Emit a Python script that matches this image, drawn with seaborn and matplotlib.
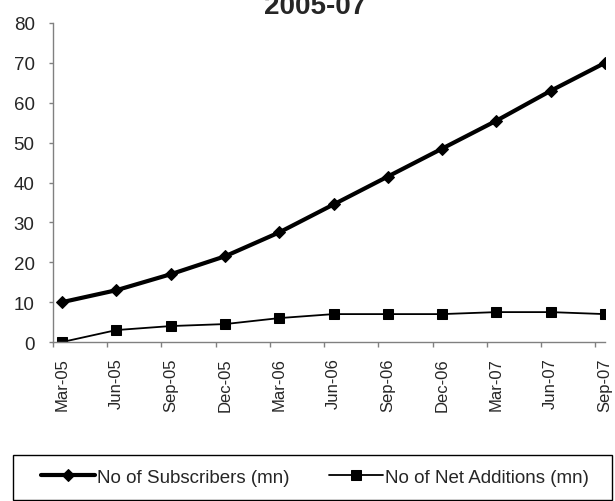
import numpy as np
import pandas as pd
import matplotlib
matplotlib.use("Agg")
import matplotlib.pyplot as plt
from matplotlib.patches import Rectangle
import seaborn as sns

# ── data ──────────────────────────────────────────────────────────────────────
quarters = ["Mar-05", "Jun-05", "Sep-05", "Dec-05", "Mar-06", "Jun-06",
            "Sep-06", "Dec-06", "Mar-07", "Jun-07", "Sep-07"]
subscribers = [10, 13, 17, 21.5, 27.5, 34.5, 41.5, 48.5, 55.5, 63, 70]
net_additions = [0, 3, 4, 4.5, 6, 7, 7, 7, 7.5, 7.5, 7]

df = pd.DataFrame({"quarter": quarters,
                   "subs": subscribers,
                   "adds": net_additions})
df["pos"] = np.arange(len(df))

# ── style ─────────────────────────────────────────────────────────────────────
sns.set_style("white")
plt.rcParams["font.family"] = ["Liberation Sans", "DejaVu Sans"]
GRAY = "#808080"

fig = plt.figure(figsize=(6.15, 5.02), dpi=100)
ax = fig.add_axes([0.0857, 0.3167, 0.898, 0.6355])

sns.lineplot(data=df, x="pos", y="subs", ax=ax, color="black", linewidth=3,
             marker="D", markersize=6.5, markeredgecolor="black",
             label="No of Subscribers (mn)")
sns.lineplot(data=df, x="pos", y="adds", ax=ax, color="black", linewidth=1.3,
             marker="s", markersize=7, markeredgecolor="black",
             label="No of Net Additions (mn)")

ax.set_xlim(-0.175, 10.0)
ax.set_ylim(0, 80)
ax.set_yticks(range(0, 81, 10))
ax.tick_params(axis="y", labelsize=13.5, direction="out", length=3,
               color=GRAY, width=1, pad=10, left=True)

# labels sit on the points, tick marks sit a little to the left (Excel style)
ax.set_xticks(df["pos"])
ax.set_xticklabels(quarters, rotation=90, fontsize=12)
ax.tick_params(axis="x", which="major", length=0, pad=11, bottom=True)
ax.set_xticks(df["pos"] - 0.175, minor=True)
ax.tick_params(axis="x", which="minor", direction="out", length=3.5,
               color=GRAY, width=1, bottom=True)

ax.set_xlabel("")
ax.set_ylabel("")
for s in ["top", "right"]:
    ax.spines[s].set_visible(False)
for s in ["left", "bottom"]:
    ax.spines[s].set_color(GRAY)
    ax.spines[s].set_linewidth(1)

fig.text(0.512, 1 - 14 / 502, "2005-07", ha="center", va="baseline",
         fontsize=20, fontweight="bold")

# legend box spans the figure width; entries centered inside it
fig.patches.append(Rectangle((13 / 615, 1 / 502), 599 / 615, 45 / 502,
                             transform=fig.transFigure, fill=False,
                             edgecolor="black", linewidth=1))
leg = ax.legend(loc="center", bbox_to_anchor=(0.512, 24 / 502),
                bbox_transform=fig.transFigure, ncol=2, frameon=False,
                fontsize=13.5, handlelength=2.9, handletextpad=0.1,
                columnspacing=2.1)

fig.savefig("out.png", dpi=100)
